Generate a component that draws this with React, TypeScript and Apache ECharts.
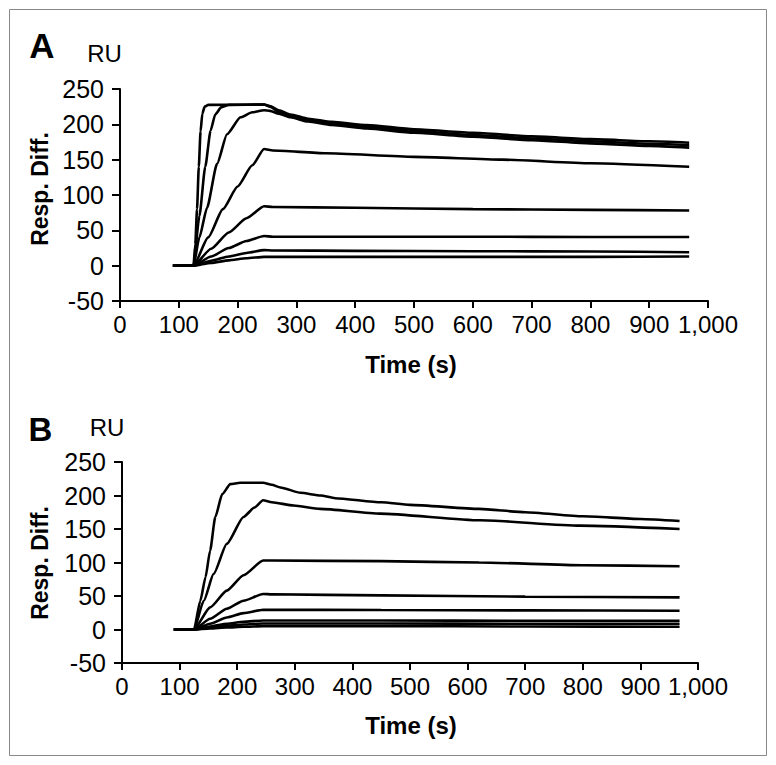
import React, { useEffect, useRef } from "react";
import * as echarts from "echarts";

// Time axis ticks and response axis ticks
const xTicks = [0, 100, 200, 300, 400, 500, 600, 700, 800, 900, 1000];
const yTicks = [-50, 0, 50, 100, 150, 200, 250];

// Panel A sensorgrams: [time (s), response (RU)]
const panelA1 = [[90,0],[125,0],[128,30],[131,80],[134,140],[137,190],[140,215],[144,225],[150,227.5],[245,228],[255,226],[270,220],[290,214],[320,208],[360,203.5],[420,199],[500,193],[600,188],[700,183],[800,179],[900,176],[968,174]];
const panelA2 = [[90,0],[125,0],[135,70],[145,140],[154,191],[162,214],[172,224],[185,227.5],[245,228],[255,225],[270,218],[290,212],[320,206],[360,201],[420,196.5],[500,190.5],[600,185],[700,180],[800,176],[900,172.5],[968,170.5]];
const panelA3 = [[90,0],[125,0],[135,40],[148,82],[165,144],[182,186],[205,210],[225,217],[245,220],[255,219],[270,215],[290,210],[320,204],[360,199],[420,194],[500,188],[600,182.5],[700,177.5],[800,173],[900,169.5],[968,167]];
const panelA4 = [[90,0],[125,0],[150,40],[175,80],[200,112],[225,142],[245,165],[260,163],[350,159],[500,154],[650,150],[800,145],[968,140]];
const panelA5 = [[90,0],[125,0],[155,24],[185,47],[215,67],[245,84],[260,83],[400,82],[600,80],[800,79],[968,78]];
const panelA6 = [[90,0],[125,0],[155,13],[185,25],[215,35],[245,42],[260,41],[400,41],[600,41],[800,40.5],[968,40.5]];
const panelA7 = [[90,0],[125,0],[155,7],[185,13],[215,18],[245,22],[260,21.5],[400,21],[600,20.5],[800,20],[968,19]];
const panelA8 = [[90,0],[125,0],[155,4],[185,7.5],[215,10.5],[245,12.5],[400,12.5],[600,12.5],[800,12.5],[968,13]];

// Panel B sensorgrams: [time (s), response (RU)]
const panelB1 = [[90,0],[125,0],[136,43],[145,78],[153,118],[162,168],[174,202],[188,217],[205,219],[245,219],[260,216],[275,212],[310,204],[345,200],[370,196],[450,190],[500,186],[620,180],[700,175],[800,169],[900,165],[968,162]];
const panelB2 = [[90,0],[125,0],[142,43],[159,83],[182,128],[211,168],[230,182],[245,193],[260,190],[298,185],[344,180],[448,173],[622,163],[795,155],[968,150]];
const panelB3 = [[90,0],[125,0],[153,33],[182,58],[211,81],[245,103],[260,103],[450,102],[620,100],[800,96],[968,94.5]];
const panelB4 = [[90,0],[125,0],[153,16],[182,31],[211,43],[245,53],[260,52.5],[450,51],[700,49],[968,48]];
const panelB5 = [[90,0],[125,0],[153,8.5],[182,18],[211,24.5],[245,29.5],[450,29],[700,28.5],[968,28]];
const panelB6 = [[90,0],[125,0],[153,4.5],[182,8.5],[211,11.5],[245,13.5],[450,13.5],[700,13],[968,13]];
const panelB7 = [[90,0],[125,0],[153,3],[182,5.5],[211,7.5],[245,9],[450,9],[700,8.5],[968,8.5]];
const panelB8 = [[90,0],[125,0],[153,1.5],[182,3],[211,4],[245,5],[450,5],[700,4.5],[968,4]];

const panelACurves = [panelA1, panelA2, panelA3, panelA4, panelA5, panelA6, panelA7, panelA8];
const panelBCurves = [panelB1, panelB2, panelB3, panelB4, panelB5, panelB6, panelB7, panelB8];

const FONT = "'Liberation Sans', Arial, Helvetica, sans-serif";

function xAxisCfg(gridIndex: number) {
  return {
    type: "value",
    gridIndex,
    min: xTicks[0],
    max: xTicks[xTicks.length - 1],
    interval: 100,
    axisLine: { show: true, onZero: false, lineStyle: { color: "#000", width: 2 } },
    axisTick: { show: true, length: 7, lineStyle: { color: "#000", width: 2 } },
    splitLine: { show: false },
    axisLabel: {
      color: "#000",
      fontSize: 24,
      fontFamily: FONT,
      margin: 11,
      formatter: (v: number) => (v >= 1000 ? v.toLocaleString("en-US") : String(v)),
    },
  };
}

function yAxisCfg(gridIndex: number) {
  return {
    type: "value",
    gridIndex,
    min: yTicks[0],
    max: yTicks[yTicks.length - 1],
    interval: 50,
    axisLine: { show: true, onZero: false, lineStyle: { color: "#000", width: 2 } },
    axisTick: { show: true, length: 8, lineStyle: { color: "#000", width: 2 } },
    splitLine: { show: false },
    axisLabel: { color: "#000", fontSize: 25, fontFamily: FONT, margin: 16 },
  };
}

export default function App() {
  const ref = useRef<HTMLDivElement>(null);
  useEffect(() => {
    if (!ref.current) return;
    const chart = echarts.init(ref.current, undefined, { renderer: "svg" });
    const lineSeries = (data: number[][], idx: number) => ({
      type: "line",
      xAxisIndex: idx,
      yAxisIndex: idx,
      data,
      showSymbol: false,
      symbol: "none",
      smooth: 0.2,
      smoothMonotone: "x",
      lineStyle: { color: "#000", width: 2.6 },
      silent: true,
    });
    chart.setOption({
      animation: false,
      backgroundColor: "#fff",
      grid: [
        { left: 120, right: 68, top: 89, bottom: 464 },
        { left: 122, right: 78, top: 462, bottom: 102 },
      ],
      xAxis: [xAxisCfg(0), xAxisCfg(1)],
      yAxis: [yAxisCfg(0), yAxisCfg(1)],
      series: [
        ...panelACurves.map((d) => lineSeries(d, 0)),
        ...panelBCurves.map((d) => lineSeries(d, 1)),
      ],
      graphic: [
        { type: "rect", shape: { x: 9.5, y: 9.5, width: 757, height: 746 }, style: { fill: "none", stroke: "#888", lineWidth: 1 }, silent: true },
        { type: "text", x: 42, y: 45, style: { text: "A", font: `bold 35px ${FONT}`, fill: "#000", align: "center", verticalAlign: "middle" } },
        { type: "text", x: 104.5, y: 53, style: { text: "RU", font: `24px ${FONT}`, fill: "#000", align: "center", verticalAlign: "middle" } },
        { type: "text", x: 40, y: 189, rotation: Math.PI / 2, style: { text: "Resp. Diff.", font: `bold 23px ${FONT}`, fill: "#000", align: "center", verticalAlign: "middle" } },
        { type: "text", x: 411, y: 364, style: { text: "Time (s)", font: `bold 24px ${FONT}`, fill: "#000", align: "center", verticalAlign: "middle" } },
        { type: "text", x: 40.5, y: 429, style: { text: "B", font: `bold 33px ${FONT}`, fill: "#000", align: "center", verticalAlign: "middle" } },
        { type: "text", x: 107, y: 427.5, style: { text: "RU", font: `24px ${FONT}`, fill: "#000", align: "center", verticalAlign: "middle" } },
        { type: "text", x: 39.5, y: 563, rotation: Math.PI / 2, style: { text: "Resp. Diff.", font: `bold 23px ${FONT}`, fill: "#000", align: "center", verticalAlign: "middle" } },
        { type: "text", x: 411, y: 725, style: { text: "Time (s)", font: `bold 24px ${FONT}`, fill: "#000", align: "center", verticalAlign: "middle" } },
      ],
    });
    return () => chart.dispose();
  }, []);
  return (
    <div
      ref={ref}
      style={{ position: "fixed", left: 0, top: 0, width: 776, height: 765, background: "#fff" }}
    />
  );
}
